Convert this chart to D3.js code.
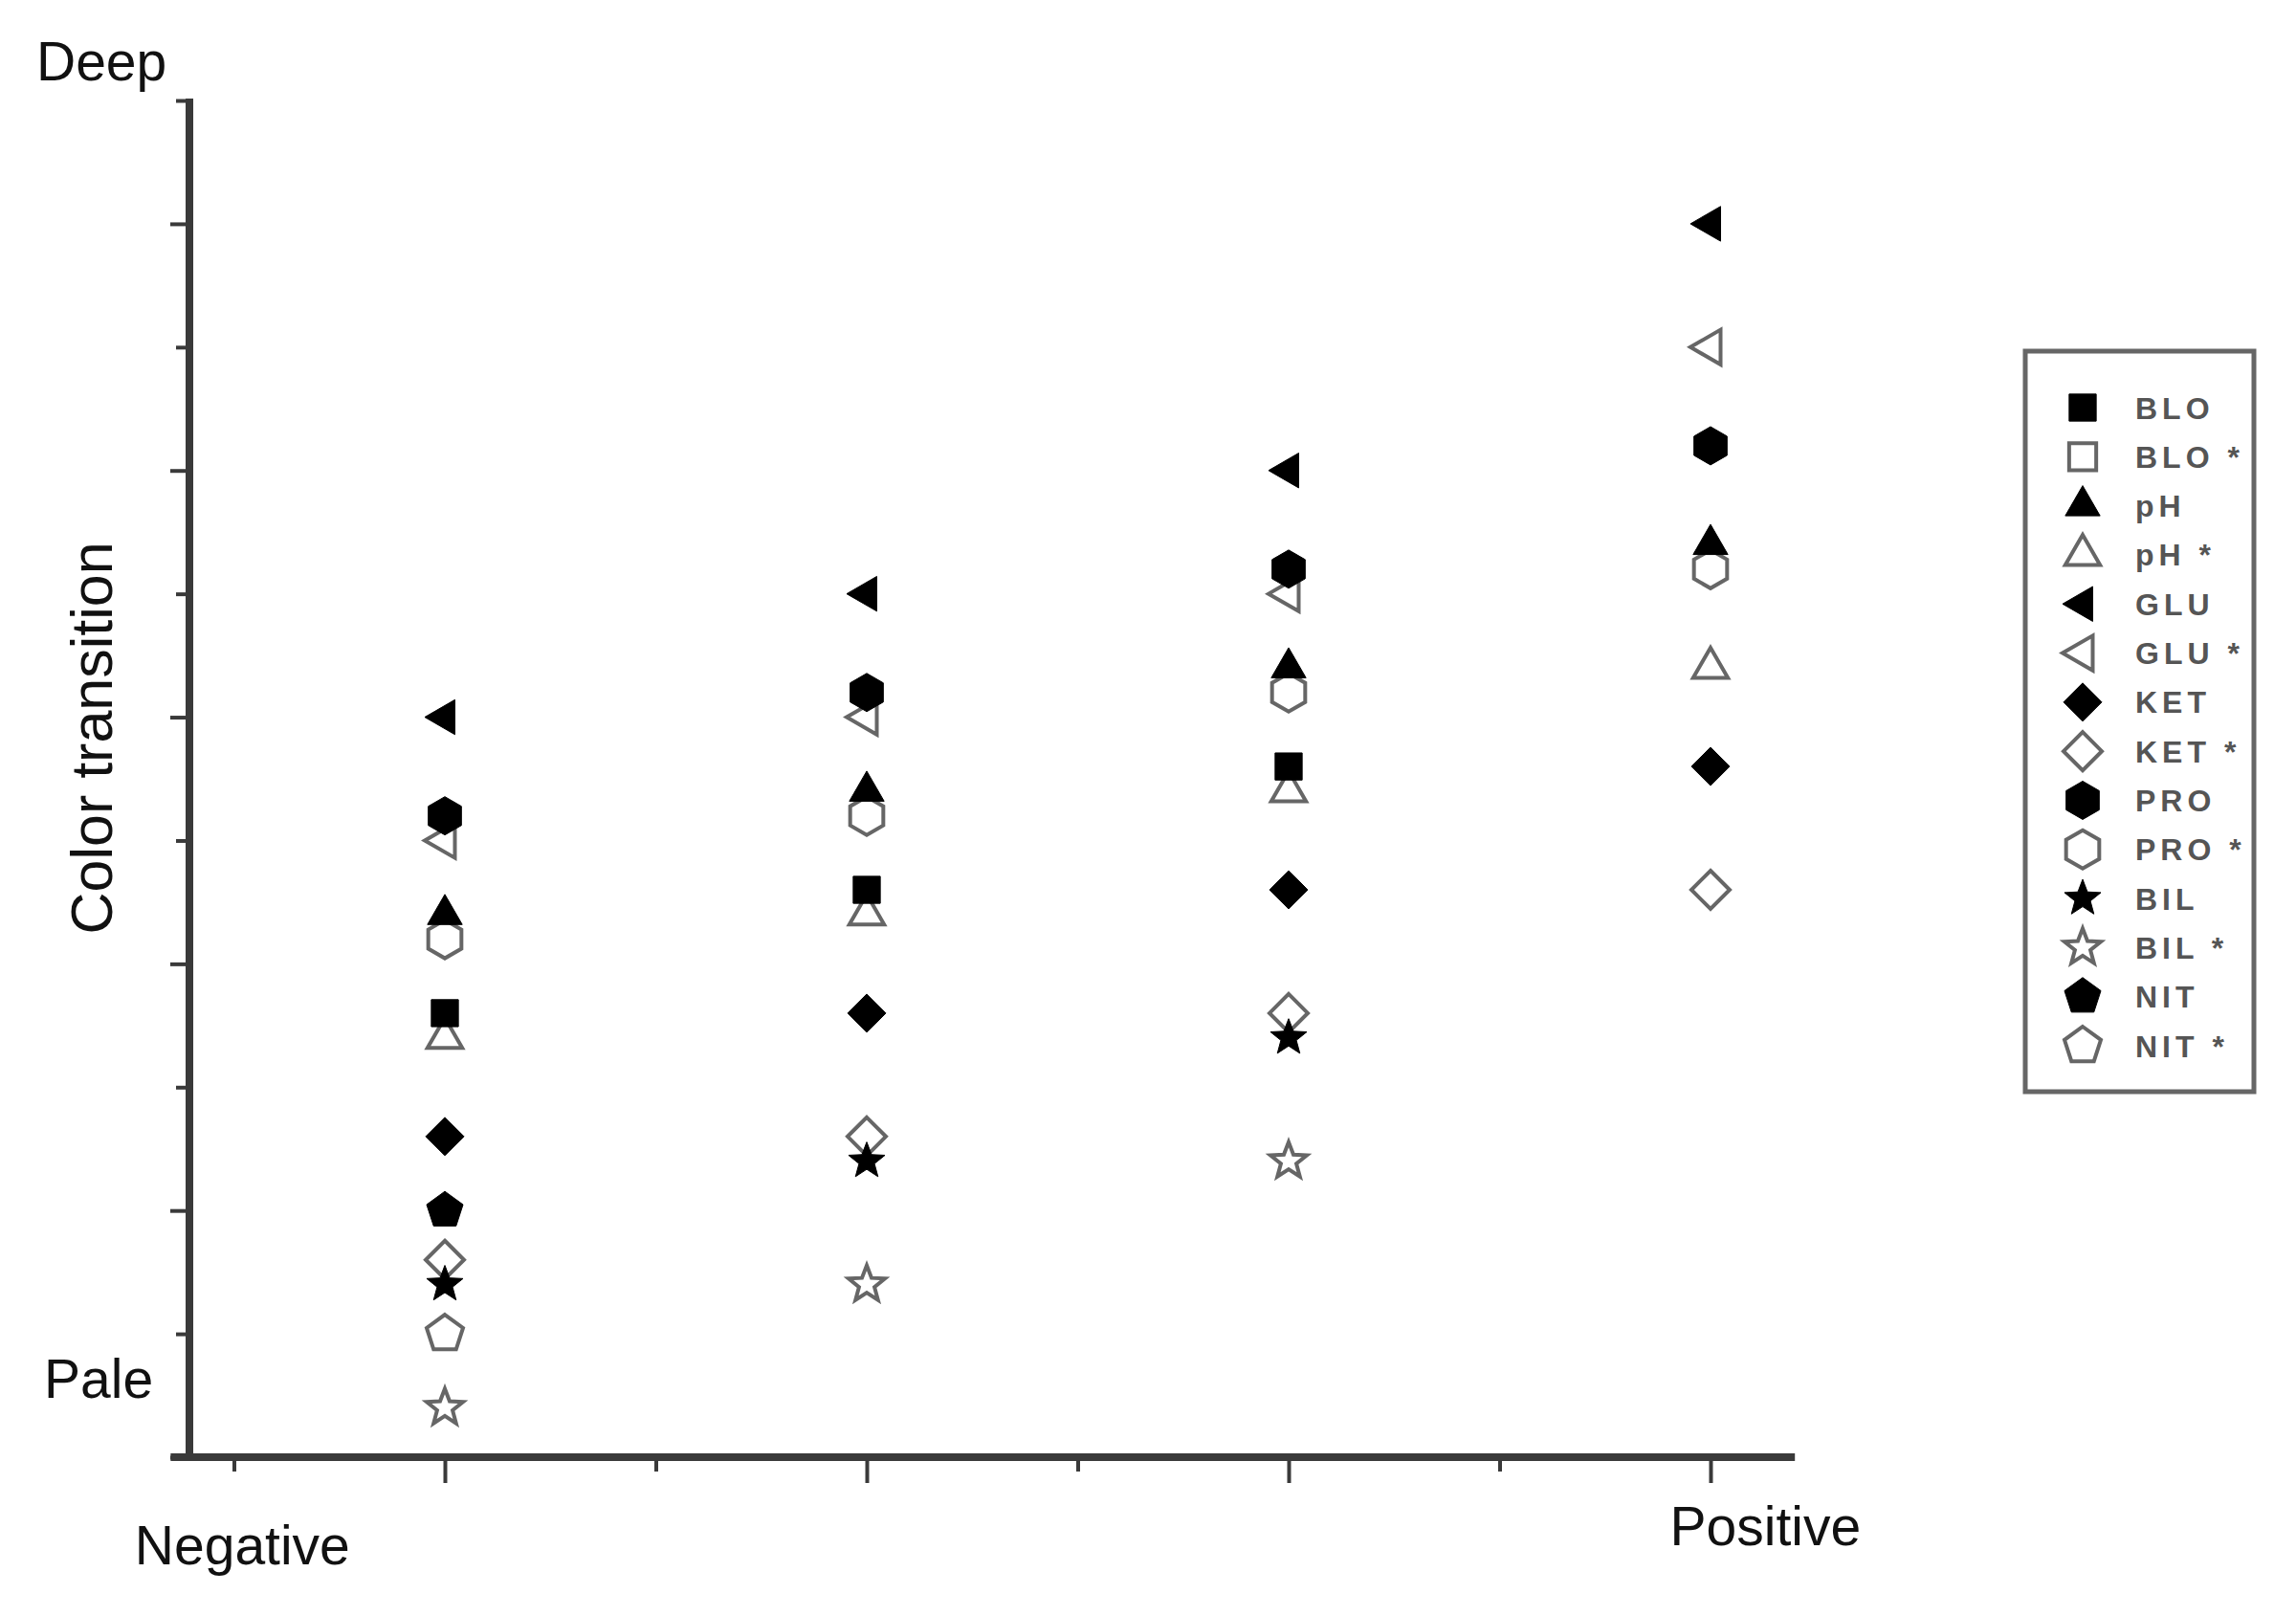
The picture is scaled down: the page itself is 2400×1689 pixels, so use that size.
<!DOCTYPE html>
<html>
<head>
<meta charset="utf-8">
<script src="https://cdn.jsdelivr.net/npm/d3@7"></script>
<style>
  body { margin: 0; background: #fff; }
  svg { display: block; font-family: "Liberation Sans", Arial, sans-serif; }
</style>
</head>
<body>
<svg width="2400" height="1689"></svg>
<script>
// columns along the x axis (test strips, negative -> positive)
const columns = [1, 2, 3, 4];
const xEndLabels = ["Negative", "Positive"];
const yEndLabels = ["Deep", "Pale"];

// series names, in legend order
const seriesNames = ["BLO", "BLO *", "pH", "pH *", "GLU", "GLU *", "KET", "KET *", "PRO", "PRO *", "BIL", "BIL *", "NIT", "NIT *"];
const seriesShapes = ["square", "square", "triUp", "triUp", "triLeft", "triLeft", "diamond", "diamond", "hexagon", "hexagon", "star", "star", "pentagon", "pentagon"];
const seriesFilled = [true, false, true, false, true, false, true, false, true, false, true, false, true, false];

// color transition read per column (null = not shown)
const BLO      = [3.6, 4.6, 5.6, null];
const BLO_star = [null, null, null, null];
const PH       = [4.4, 5.4, 6.4, 7.4];
const PH_star  = [3.4, 4.4, 5.4, 6.4];
const GLU      = [6.0, 7.0, 8.0, 10.0];
const GLU_star = [5.0, 6.0, 7.0, 9.0];
const KET      = [2.6, 3.6, 4.6, 5.6];
const KET_star = [1.6, 2.6, 3.6, 4.6];
const PRO      = [5.2, 6.2, 7.2, 8.2];
const PRO_star = [4.2, 5.2, 6.2, 7.2];
const BIL      = [1.4, 2.4, 3.4, null];
const BIL_star = [0.4, 1.4, 2.4, null];
const NIT      = [2.0, null, null, null];
const NIT_star = [1.0, null, null, null];

const seriesValues = [BLO, BLO_star, PH, PH_star, GLU, GLU_star, KET, KET_star, PRO, PRO_star, BIL, BIL_star, NIT, NIT_star];

const yMajorTicks = [0, 2, 4, 6, 8, 10];
const yMinorTicks = [1, 3, 5, 7, 9, 11];
const xMajorTicks = [1, 2, 3, 4];
const xMinorTicks = [0.5, 1.5, 2.5, 3.5];

const svg = d3.select('svg');

const x = d3.scaleLinear()
    .domain([1, 4])
    .range([465, 1788]);

const y = d3.scaleLinear()
    .domain([0, 11])
    .range([1523, 105]);

/////////////////////////////
// SHAPES
/////////////////////////////
function polygon(n, r, rot) {
    const pts = d3.range(n).map((i) => {
        const a = rot + i * 2 * Math.PI / n;
        return [r * Math.sin(a), -r * Math.cos(a)];
    });
    return "M" + pts.join("L") + "Z";
}

function star(ro, ri) {
    const pts = d3.range(10).map((i) => {
        const a = i * Math.PI / 5;
        const r = i % 2 ? ri : ro;
        return [r * Math.sin(a), -r * Math.cos(a)];
    });
    return "M" + pts.join("L") + "Z";
}

const shapePath = {
    square:   polygon(4, 20, Math.PI / 4),
    triUp:    polygon(3, 21, 0),
    triLeft:  polygon(3, 21, -Math.PI / 2),
    diamond:  polygon(4, 20, 0),
    hexagon:  polygon(6, 20, 0),
    star:     star(20, 8.5),
    pentagon: polygon(5, 20, 0)
};

/////////////////////////////
// AXES
/////////////////////////////
const axisColor = '#3a3a3a';

const yMajor = svg.append('g')
    .attr('transform', 'translate(198,0)')
    .call(d3.axisLeft(y).tickValues(yMajorTicks).tickSize(20).tickFormat(''));
const yMinor = svg.append('g')
    .attr('transform', 'translate(198,0)')
    .call(d3.axisLeft(y).tickValues(yMinorTicks).tickSize(14).tickFormat(''));
const xMajor = svg.append('g')
    .attr('transform', 'translate(0,1523)')
    .call(d3.axisBottom(x).tickValues(xMajorTicks).tickSize(27).tickFormat(''));
const xMinor = svg.append('g')
    .attr('transform', 'translate(0,1523)')
    .call(d3.axisBottom(x).tickValues(xMinorTicks).tickSize(15).tickFormat(''));

[yMajor, yMinor, xMajor, xMinor].forEach((g) => {
    g.select('.domain').remove();
    g.selectAll('.tick line').attr('stroke', axisColor).attr('stroke-width', 4);
});

svg.append('line')
    .attr('x1', 198).attr('x2', 198)
    .attr('y1', y(11) - 2).attr('y2', y(0))
    .attr('stroke', axisColor)
    .attr('stroke-width', 8);

svg.append('line')
    .attr('x1', x(0.35)).attr('x2', x(4.2))
    .attr('y1', y(0)).attr('y2', y(0))
    .attr('stroke', axisColor)
    .attr('stroke-width', 8);

/////////////////////////////
// LABELS
/////////////////////////////
const labelFont = 57;

svg.append('text')
    .attr('x', 38).attr('y', 84)
    .attr('font-size', labelFont)
    .attr('fill', '#111')
    .text(yEndLabels[0]);

svg.append('text')
    .attr('x', 46).attr('y', 1461)
    .attr('font-size', labelFont)
    .attr('fill', '#111')
    .text(yEndLabels[1]);

svg.append('text')
    .attr('x', x(0.52)).attr('y', 1635)
    .attr('text-anchor', 'middle')
    .attr('font-size', labelFont)
    .attr('fill', '#111')
    .text(xEndLabels[0]);

svg.append('text')
    .attr('x', x(4.13)).attr('y', 1615)
    .attr('text-anchor', 'middle')
    .attr('font-size', labelFont)
    .attr('fill', '#111')
    .text(xEndLabels[1]);

svg.append('text')
    .attr('transform', 'translate(117,' + y(5.83) + ') rotate(-90)')
    .attr('text-anchor', 'middle')
    .attr('font-size', 61)
    .attr('fill', '#111')
    .text('Color transition');

/////////////////////////////
// POINTS
/////////////////////////////
const points = [];
seriesNames.forEach((name, i) => {
    seriesValues[i].forEach((v, j) => {
        if (v !== null) points.push({ series: i, col: columns[j], value: v });
    });
});

// open markers first, filled ones on top
points.sort((a, b) => (seriesFilled[a.series] ? 1 : 0) - (seriesFilled[b.series] ? 1 : 0));

svg.append('g')
    .attr('class', 'markers')
    .selectAll('path')
    .data(points)
    .enter()
    .append('path')
        .attr('transform', (d) => 'translate(' + x(d.col) + ',' + y(d.value) + ')')
        .attr('d', (d) => shapePath[seriesShapes[d.series]])
        .attr('fill', (d) => seriesFilled[d.series] ? '#000' : '#fff')
        .attr('stroke', (d) => seriesFilled[d.series] ? '#000' : '#666')
        .attr('stroke-width', (d) => seriesFilled[d.series] ? 1 : 4)
        .attr('stroke-linejoin', 'miter');

/////////////////////////////
// LEGEND
/////////////////////////////
const legend = svg.append('g').attr('class', 'legend');

legend.append('rect')
    .attr('x', 2117).attr('y', 367)
    .attr('width', 239).attr('height', 774)
    .attr('fill', '#fff')
    .attr('stroke', '#666')
    .attr('stroke-width', 5);

const rowY = d3.scalePoint()
    .domain(seriesNames)
    .range([426, 1093]);

const rows = legend.selectAll('.row')
    .data(seriesNames)
    .enter()
    .append('g')
    .attr('class', 'row')
    .attr('transform', (d) => 'translate(2177,' + rowY(d) + ')');

rows.append('path')
    .attr('d', (d, i) => shapePath[seriesShapes[i]])
    .attr('fill', (d, i) => seriesFilled[i] ? '#000' : '#fff')
    .attr('stroke', (d, i) => seriesFilled[i] ? '#000' : '#666')
    .attr('stroke-width', (d, i) => seriesFilled[i] ? 1 : 4);

rows.append('text')
    .attr('x', 55)
    .attr('dy', '0.36em')
    .attr('font-size', 32)
    .attr('font-weight', 'bold')
    .attr('letter-spacing', 5)
    .attr('fill', '#555')
    .text((d) => d);
</script>
</body>
</html>
